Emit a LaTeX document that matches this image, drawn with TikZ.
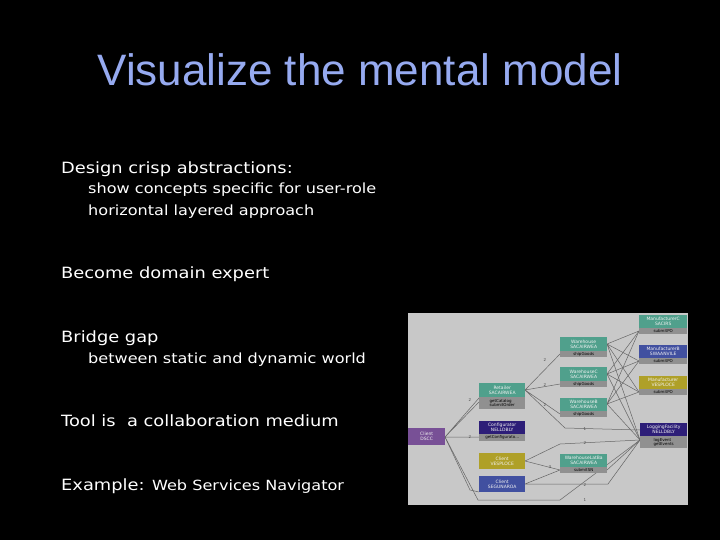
\documentclass[tikz,border=0pt]{standalone}
\usepackage{fontspec}
\setmainfont{DejaVu Sans}
\newfontfamily\titlefont{Liberation Sans}
\newfontfamily\bodyfont[FakeStretch=1.15]{DejaVu Sans}
\begin{document}
\begin{tikzpicture}[x=1pt,y=-1pt,
  txt/.style={anchor=base west,text=white,inner sep=0pt,font=\bodyfont\fontsize{15.5}{18}\selectfont},
  sub/.style={anchor=base west,text=white,inner sep=0pt,font=\bodyfont\fontsize{14}{17}\selectfont},
  box/.style={draw=none,inner sep=0pt,anchor=north west,text=white!90!gray,align=center,font=\fontsize{4.5}{5}\selectfont},
  op/.style={fill=gray!55!black!60,inner sep=0pt,anchor=north west,text=black,align=left,font=\fontsize{4}{4.5}\selectfont},
  ln/.style={draw=black!60,line width=0.5pt},
  lb/.style={font=\fontsize{4}{4}\selectfont,text=black!70,inner sep=0.5pt}]
\definecolor{tealc}{RGB}{80,160,140}
\definecolor{purc}{RGB}{120,80,150}
\definecolor{dbl}{RGB}{45,30,120}
\definecolor{yel}{RGB}{175,160,40}
\definecolor{blu}{RGB}{65,80,160}
\definecolor{bgg}{RGB}{200,200,200}
\definecolor{titc}{RGB}{150,170,240}
\fill[black] (0,0) rectangle (720,540);
\useasboundingbox (0,0) rectangle (720,540);
\node[text=titc,font=\titlefont\fontsize{44}{48}\selectfont] (title) at (360,70) {Visualize the mental model};
\node[txt] (t1) at (61,174) {Design crisp abstractions:};
\node[sub] (t1a) at (88,194) {show concepts specific for user-role};
\node[sub] (t1b) at (88,215) {horizontal layered approach};
\node[txt] (t2) at (61,278) {Become domain expert};
\node[txt] (t3) at (61,342) {Bridge gap};
\node[sub] (t3a) at (88,363) {between static and dynamic world};
\node[txt] (t4) at (61,426) {Tool is\ \ a collaboration medium};
\node[txt] (t5) at (61,490) {Example: \fontsize{14}{17}\selectfont Web Services Navigator};
% screenshot
\fill[bgg] (408,313) rectangle (688,505);
% edges
\coordinate (cl) at (445,437);
\coordinate (re) at (525,390);
\coordinate (rin) at (479,402);
\coordinate (cin) at (479,437);
\coordinate (lg) at (640,440);
\draw[ln] (cl) -- (rin) (cl) -- (479,398) (cl) -- (cin) (cl) -- (470,490) -- (479,492);
\draw[ln] (re) -- (560,354) (re) -- (560,384) (re) -- (560,414) (re) -- (565,428) -- (640,430);
\draw[ln] (cl) -- (478,500) -- (560,500) -- (lg);
\draw[ln] (525,461) -- (560,470) (525,484) -- (560,470) (525,461) -- (560,444) -- (lg) (525,484) -- (608,484) -- (lg);
\draw[ln] (607,470) -- (lg);
\foreach \y in {344,374,404} {
  \draw[ln] (607,\y) -- (639,331) (607,\y) -- (639,361) (607,\y) -- (639,392) (607,\y) -- (lg);
}
\node[lb] (l1) at (470,400) {2};
\node[lb] (l2) at (470,437) {2};
\node[lb] (l3) at (545,360) {2};
\node[lb] (l4) at (545,385) {2};
\node[lb] (l5) at (545,405) {2};
\node[lb] (l6) at (585,429) {1};
\node[lb] (l7) at (585,443) {2};
\node[lb] (l8) at (550,467) {3};
\node[lb] (l9) at (585,485) {2};
\node[lb] (l10) at (585,500) {1};
% nodes
\node[box,fill=purc,minimum width=37pt,minimum height=17pt] (client) at (408,428) {Client\\DSCC};
\node[box,fill=tealc,minimum width=46pt,minimum height=14pt] (retailer) at (479,383) {Retailer\\SACAIRWEA};
\node[op,minimum width=46pt,minimum height=12pt] (retops) at (479,397) {getCatalog\\submitOrder};
\node[box,fill=dbl,minimum width=46pt,minimum height=13pt] (conf) at (479,421) {Configurator\\NELLDBLY};
\node[op,minimum width=46pt,minimum height=7pt] (confop) at (479,434) {getConfigurato...};
\node[box,fill=yel,minimum width=46pt,minimum height=16pt] (cly) at (479,453) {Client\\VESPLOCE};
\node[box,fill=blu,minimum width=46pt,minimum height=16pt] (clb) at (479,476) {Client\\SEGUNAROA};
\node[box,fill=tealc,minimum width=47pt,minimum height=14pt] (wh) at (560,337) {Warehouse\\SACAIRWEA};
\node[op,minimum width=47pt,minimum height=6pt] (whop) at (560,351) {shipGoods};
\node[box,fill=tealc,minimum width=47pt,minimum height=14pt] (whc) at (560,367) {WarehouseC\\SACAIRWEA};
\node[op,minimum width=47pt,minimum height=6pt] (whcop) at (560,381) {shipGoods};
\node[box,fill=tealc,minimum width=47pt,minimum height=13pt] (whb) at (560,398) {WarehouseB\\SACAIRWEA};
\node[op,minimum width=47pt,minimum height=6pt] (whbop) at (560,411) {shipGoods};
\node[box,fill=tealc,minimum width=47pt,minimum height=13pt] (whl) at (560,454) {WarehouseLatBa\\SACAIRWEA};
\node[op,minimum width=47pt,minimum height=6pt] (whlop) at (560,467) {submitSN};
\node[box,fill=tealc,minimum width=48pt,minimum height=13pt] (mc) at (639,315) {ManufacturerC\\SACIRS};
\node[op,minimum width=48pt,minimum height=6pt] (mcop) at (639,328) {submitPO};
\node[box,fill=blu,minimum width=48pt,minimum height=13pt] (mb) at (639,345) {ManufacturerB\\SWAANVILE};
\node[op,minimum width=48pt,minimum height=6pt] (mbop) at (639,358) {submitPO};
\node[box,fill=yel,minimum width=48pt,minimum height=13pt] (ma) at (639,376) {Manufacturer\\VESPLOCE};
\node[op,minimum width=48pt,minimum height=6pt] (maop) at (639,389) {submitPO};
\node[box,fill=dbl,minimum width=47pt,minimum height=13pt] (log) at (640,423) {LoggingFacility\\NELLDBLY};
\node[op,minimum width=47pt,minimum height=12pt] (logop) at (640,436) {logEvent\\getEvents};
\end{tikzpicture}
\end{document}
